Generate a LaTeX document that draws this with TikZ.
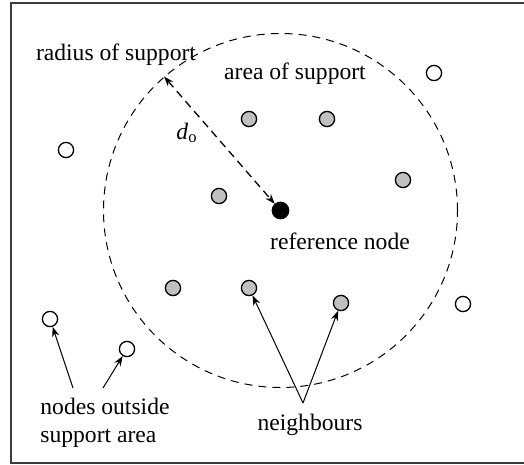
\documentclass[tikz,border=0pt]{standalone}
\usepackage{fontspec}
\setmainfont{Liberation Serif}
\usepackage{tikz}
\usetikzlibrary{arrows.meta,positioning,calc}
\definecolor{nbgray}{RGB}{192,192,192}
\definecolor{framegray}{RGB}{60,60,60}
\tikzset{
  pt/.style={circle,draw=black,line width=0.65pt,inner sep=0pt,minimum size=7.6pt},
  nbpt/.style={pt,fill=nbgray},
  outpt/.style={pt,fill=white},
  refpt/.style={pt,fill=black,minimum size=8.2pt},
  supp/.style={circle,draw=black,line width=0.5pt,dash pattern=on 4pt off 3pt,
               inner sep=0pt,minimum size=177pt},
  lbl/.style={inner sep=0pt,font=\fontsize{11.8}{14}\selectfont},
  pa/.style={-{Stealth[length=5pt,width=3.6pt]},line width=0.5pt},
  ra/.style={{Stealth[length=5pt,width=3.6pt]}-{Stealth[length=5pt,width=3.6pt]},
             line width=0.65pt,dash pattern=on 4pt off 2.6pt},
}
\begin{document}
\begin{tikzpicture}[x=0.5pt,y=-0.5pt]
  \useasboundingbox (0,0) rectangle (524,465);
  \draw[framegray,line width=0.7pt] (11,3) rectangle (530,463);
  % support circle and reference node
  \node[supp] (sup) at (280.5,210.5) {};
  \node[refpt] (ref) at (280.5,210.5) {};
  % neighbours
  \node[nbpt] (n1) at (249,119) {};
  \node[nbpt] (n2) at (327,119) {};
  \node[nbpt] (n3) at (403,180) {};
  \node[nbpt] (n4) at (219,196) {};
  \node[nbpt] (n5) at (173,288) {};
  \node[nbpt] (n6) at (249,288) {};
  \node[nbpt] (n7) at (341,303) {};
  % nodes outside
  \node[outpt] (o1) at (66,150) {};
  \node[outpt] (o2) at (434,73) {};
  \node[outpt] (o3) at (463,304) {};
  \node[outpt] (o4) at (50,319) {};
  \node[outpt] (o5) at (127,349) {};
  % labels
  \node[lbl] (rad) at (116,55) {radius of support};
  \node[lbl] (area) at (295,74) {area of support};
  \node[lbl] (dist) at (187,133) {\textit{d}\textsubscript{o}};
  \node[lbl] (reflbl) at (340,241) {reference node};
  \node[lbl] (nbl) at (310,425) {neighbours};
  \node[lbl,align=left,anchor=west] (outl) at (40,423) {nodes outside\\support area};
  \coordinate (nbtip) at (303,403);
  \coordinate (otip1) at (73,388);
  \coordinate (otip2) at (103,388);
  % arrows
  \draw[ra] (sup.131.5) -- (ref);
  \draw[pa] (nbtip) -- (n6);
  \draw[pa] (nbtip) -- (n7);
  \draw[pa] (otip1) -- (o4);
  \draw[pa] (otip2) -- (o5);
\end{tikzpicture}
\end{document}
